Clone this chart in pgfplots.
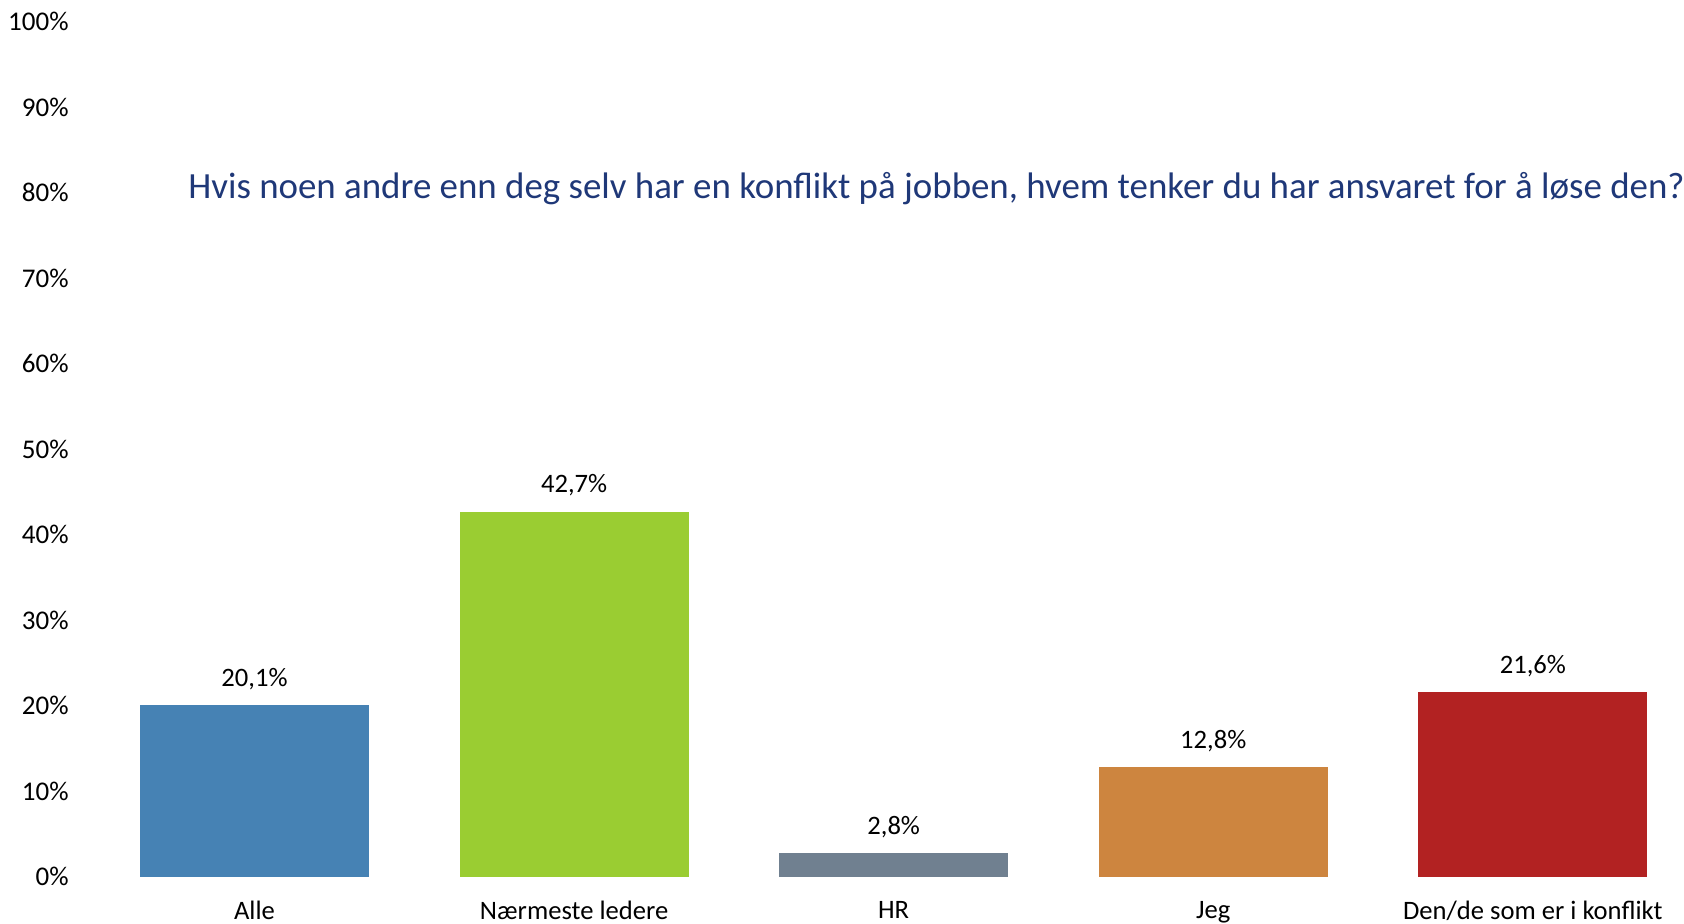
\documentclass[border=0pt]{standalone}
\usepackage{pgfplots}
\pgfplotsset{compat=1.18}
\usepackage{fontspec}
\setmainfont{Carlito}
\definecolor{cAlle}{HTML}{4682B4}
\definecolor{cNaer}{HTML}{9ACD32}
\definecolor{cHR}{HTML}{708090}
\definecolor{cJeg}{HTML}{CD853F}
\definecolor{cDen}{HTML}{B22222}
\definecolor{ctitle}{RGB}{31,56,120}
\begin{document}
\begin{tikzpicture}
\path[use as bounding box] (-47.35pt,-23.65pt) rectangle (794.65pt,438.35pt);
\begin{axis}[
  at={(0,0)}, anchor=south west,
  scale only axis,
  width=794.65pt, height=427.5pt,
  xmin=-0.5, xmax=4.473,
  ymin=0, ymax=100,
  ybar, bar width=114.5pt, bar shift=0pt,
  axis line style={draw=none},
  major tick length=0pt,
  tick style={draw=none},
  xtick={0,1,2,3,4},
  xticklabels={Alle, Nærmeste ledere, HR, Jeg, Den/de som er i konflikt},
  ytick={0,10,...,100},
  yticklabel={\pgfmathprintnumber{\tick}\%},
  /pgf/number format/assume math mode=true,
  yticklabel style={font=\fontsize{13.5}{16}\selectfont, inner sep=0pt, anchor=east, xshift=-12.85pt},
  xticklabel style={font=\fontsize{13.3}{16}\selectfont, inner sep=0pt, anchor=north, yshift=-12pt},
  point meta=explicit symbolic,
  nodes near coords,
  nodes near coords style={font=\fontsize{13.3}{16}\selectfont, inner sep=0pt, anchor=base, yshift=9.35pt, black},
  clip=false,
]
\addplot[fill=cAlle, draw=none] coordinates {(0,20.1) [20,1\%]};
\addplot[fill=cNaer, draw=none] coordinates {(1,42.7) [42,7\%]};
\addplot[fill=cHR, draw=none] coordinates {(2,2.8) [2,8\%]};
\addplot[fill=cJeg, draw=none] coordinates {(3,12.8) [12,8\%]};
\addplot[fill=cDen, draw=none] coordinates {(4,21.6) [21,6\%]};
\node[anchor=base west, inner sep=0pt, text=ctitle, font=\fontsize{18.45}{22}\selectfont] at (rel axis cs:0.0587,0.7935) {Hvis noen andre enn deg selv har en konflikt på jobben, hvem tenker du har ansvaret for å løse den?};
\end{axis}
\end{tikzpicture}
\end{document}
